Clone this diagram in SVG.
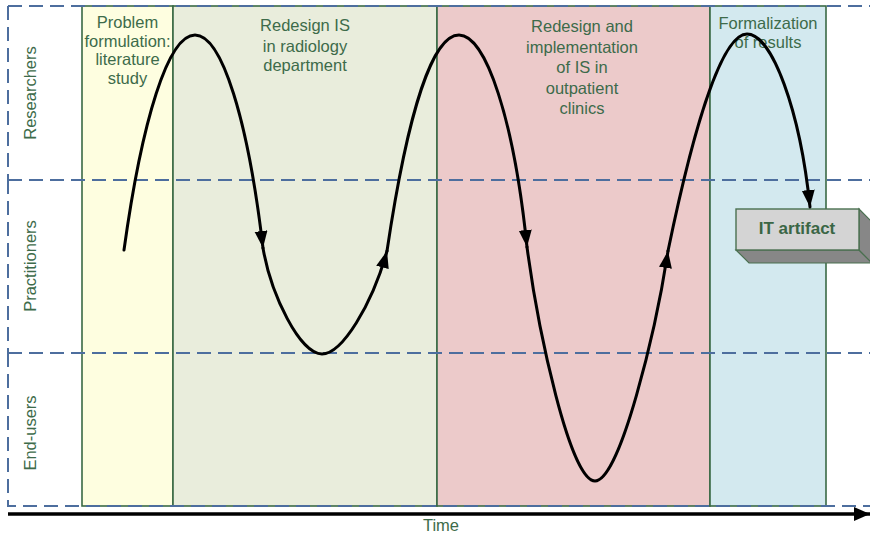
<svg xmlns="http://www.w3.org/2000/svg" width="870" height="534" viewBox="0 0 870 534">
<style>
.lbl{font-family:"Liberation Sans",Arial,sans-serif;font-size:16.5px;fill:#3d6b4a;text-anchor:middle}
.col{stroke:#3a6a45;stroke-width:1.6}
.dash{fill:none;stroke:#4d6e9e;stroke-width:2;stroke-dasharray:14 7}
.wave{fill:none;stroke:#000;stroke-width:3;stroke-linecap:round}
</style>
<defs>
<marker id="ah" markerUnits="userSpaceOnUse" markerWidth="20" markerHeight="16" refX="17" refY="6.5" orient="auto">
<path d="M0,0 L17,6.5 L0,13 z" fill="#000"/>
</marker>
<marker id="ta" markerUnits="userSpaceOnUse" markerWidth="18" markerHeight="16" refX="16" refY="7" orient="auto">
<path d="M0,0 L16,7 L0,14 z" fill="#000"/>
</marker>
</defs>
<g id="phase-problem">
<rect class="col" x="82" y="6" width="91" height="500" fill="#fefee0"/>
<text class="lbl" x="127.5" y="28">Problem</text>
<text class="lbl" x="127.5" y="46.5">formulation:</text>
<text class="lbl" x="127.5" y="65">literature</text>
<text class="lbl" x="127.5" y="83.5">study</text>
</g>
<g id="phase-radiology">
<rect class="col" x="173" y="6" width="264" height="500" fill="#e9eddc"/>
<text class="lbl" x="305" y="31">Redesign IS</text>
<text class="lbl" x="305" y="51.5">in radiology</text>
<text class="lbl" x="305" y="71">department</text>
</g>
<g id="phase-outpatient">
<rect class="col" x="437" y="6" width="273" height="500" fill="#eccaca"/>
<text class="lbl" x="582" y="31.5">Redesign and</text>
<text class="lbl" x="582" y="52.5">implementation</text>
<text class="lbl" x="582" y="73">of IS in</text>
<text class="lbl" x="582" y="93.5">outpatient</text>
<text class="lbl" x="582" y="114">clinics</text>
</g>
<g id="phase-formalization">
<rect class="col" x="710" y="6" width="116" height="500" fill="#d3e9ef"/>
<text class="lbl" x="768" y="28.5">Formalization</text>
<text class="lbl" x="768" y="48">of results</text>
</g>
<g id="lane-researchers">
<path class="dash" d="M8,6 H880 M8,6 V180"/>
<text class="lbl" transform="translate(36,93) rotate(-90)" font-size="17">Researchers</text>
</g>
<g id="lane-practitioners">
<path class="dash" d="M8,180 H880 M8,180 V353"/>
<text class="lbl" transform="translate(36,266) rotate(-90)" font-size="17">Practitioners</text>
</g>
<g id="lane-endusers">
<path class="dash" d="M8,353 H880 M8,353 V506 H880"/>
<text class="lbl" transform="translate(36,433) rotate(-90)" font-size="17">End-users</text>
</g>
<g id="it-artifact">
<polygon points="736,250 859,250 872,263 749,263" fill="#878787" stroke="#4a7050" stroke-width="1.2"/>
<polygon points="859,209 872,222 872,263 859,250" fill="#878787" stroke="#4a7050" stroke-width="1.2"/>
<rect x="736" y="209" width="123" height="41" fill="#d4d4d4" stroke="#4a7050" stroke-width="1.4"/>
<text x="797" y="234" text-anchor="middle" font-family="'Liberation Sans',Arial,sans-serif" font-size="17" font-weight="bold" fill="#3a6645">IT artifact</text>
</g>
<g id="connectors">
<path class="wave" marker-end="url(#ah)" d="M124,250 C142,120 168,35 195,35 C222,35 248,120 263,248"/>
<path class="wave" marker-end="url(#ah)" d="M263,248 C271,295 300,354 322,354 C342,354 372,305 387,251"/>
<path class="wave" marker-end="url(#ah)" d="M387,251 C408,110 433,35 459,35 C486,35 514,120 527,247"/>
<path class="wave" marker-end="url(#ah)" d="M527,247 C538,330 570,481 595,481 C620,481 656,330 668,251"/>
<path class="wave" marker-end="url(#ah)" d="M668,251 C694,125 722,34 747,34 C772,34 800,110 810,207"/>
<path d="M8,514 H870" stroke="#000" stroke-width="3.5" fill="none" marker-end="url(#ta)"/>
<text class="lbl" x="441" y="530.5">Time</text>
</g>
</svg>
